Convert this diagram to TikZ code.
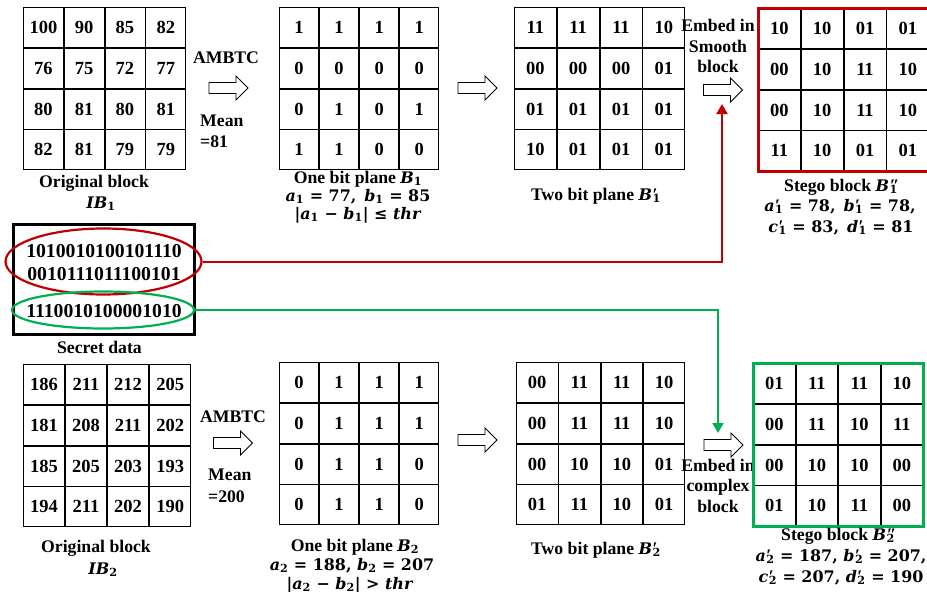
\documentclass[tikz,border=0pt]{standalone}
\usepackage{fontspec}
\setmainfont{Liberation Serif}
\newfontfamily\mathfnt{DejaVu Serif}[Scale=0.9]
\newfontfamily\primefnt{Liberation Serif}
\usetikzlibrary{matrix,shapes.geometric,arrows.meta}
\definecolor{sred}{RGB}{192,0,0}
\definecolor{sgreen}{RGB}{0,176,80}
\newcommand{\mylblfont}{\fontsize{17.7}{21}\selectfont\bfseries}
\newcommand{\mycellfont}{\fontsize{18.5}{22}\selectfont\bfseries}
\newcommand{\mysecfont}{\fontsize{19.7}{23}\selectfont\bfseries}
\newcommand{\M}[1]{{\mathfnt #1}}
\newcommand{\vs}[2]{\textit{#1}\textsubscript{#2}}
\newcommand{\vp}[3]{\textit{#1}\kern0.5pt\rlap{{\primefnt #3}}\textsubscript{#2}}
\tikzset{
  cellmat/.style={matrix of nodes, inner sep=0pt, outer sep=0pt, column sep=0pt, row sep=0pt, anchor=north west,
    nodes={draw, line width=0.8pt, minimum height=40pt, inner sep=0pt, outer sep=0pt, anchor=center, font=\mycellfont}},
  lbl/.style={font=\mylblfont, inner sep=0pt, anchor=base},
  sectext/.style={font=\mysecfont, inner sep=0pt, anchor=base},
  hollowarrow/.pic={\draw[line width=0.8pt, fill=white] (-19.5,-5.5) -- (7.5,-5.5) -- (7.5,-12) -- (19.5,0) -- (7.5,12) -- (7.5,5.5) -- (-19.5,5.5) -- cycle;},
  conn/.style={line width=2pt, -{Triangle[width=11pt,length=10pt]}}
}
\begin{document}
\begin{tikzpicture}[x=1pt,y=-1pt]
\useasboundingbox (0,0) rectangle (927,592);

% ---------- top row ----------
\matrix (IBa) [cellmat, nodes={minimum width=40pt}] at (23,7) {
100 & 90 & 85 & 82 \\
76 & 75 & 72 & 77 \\
80 & 81 & 80 & 81 \\
82 & 81 & 79 & 79 \\
};
\node[lbl] (lIBa1) at (94,187) {Original block};
\node[lbl] (lIBa2) at (101,208) {\M{\vs{IB}{1}}};

\node[lbl] (amb1) at (226,63) {AMBTC};
\pic at (228.5,88) {hollowarrow};
\node[lbl, anchor=base west] (mean1a) at (200,126) {Mean};
\node[lbl, anchor=base west] (mean1b) at (200,147) {=81};

\matrix (Ba) [cellmat, nodes={minimum width=39.25pt}] at (279,7) {
1 & 1 & 1 & 1 \\
0 & 0 & 0 & 0 \\
0 & 1 & 0 & 1 \\
1 & 1 & 0 & 0 \\
};
\node[lbl] (lBa1) at (358,183) {One bit plane \M{\vs{B}{1}}};
\node[lbl] (lBa2) at (358,201) {\M{\vs{a}{1} = 77,\enspace\vs{b}{1} = 85}};
\node[lbl] (lBa3) at (358,219) {\M{|\vs{a}{1} − \vs{b}{1}| ≤ \textit{thr}}};

\pic at (477.5,88) {hollowarrow};

\matrix (Bpa) [cellmat, nodes={minimum width=42pt}] at (514,7) {
11 & 11 & 11 & 10 \\
00 & 00 & 00 & 01 \\
01 & 01 & 01 & 01 \\
10 & 01 & 01 & 01 \\
};
\node[lbl] (lBpa) at (596,200) {Two bit plane \M{\vp{B}{1}{′}}};

\node[lbl] (emb1a) at (718,31) {Embed in};
\node[lbl] (emb1b) at (718,52) {Smooth};
\node[lbl] (emb1c) at (718,72) {block};
\pic at (723,90) {hollowarrow};

\matrix (Sa) [cellmat, nodes={minimum width=42pt}] at (758,8) {
10 & 10 & 01 & 01 \\
00 & 10 & 11 & 10 \\
00 & 10 & 11 & 10 \\
11 & 10 & 01 & 01 \\
};
\draw[sred, line width=3pt] (Sa.north west) rectangle (Sa.south east);
\node[lbl] (lSa1) at (841,191) {Stego block \M{\vp{B}{1}{″}}};
\node[lbl] (lSa2) at (840,211) {\M{\vp{a}{1}{′} = 78,\enspace\vp{b}{1}{′} = 78,}};
\node[lbl] (lSa3) at (841,232) {\M{\vp{c}{1}{′} = 83,\enspace\vp{d}{1}{′} = 81}};

% ---------- secret data ----------
\node[draw, line width=3pt, minimum width=181pt, minimum height=110pt, inner sep=0pt] (SD) at (103.5,279) {};
\node[sectext] (s1) at (104,257) {1010010100101110};
\node[sectext] (s2) at (104,280) {0010111011100101};
\node[sectext] (s3) at (104,317) {1110010100001010};
\node[ellipse, draw=sred, line width=2.2pt, minimum width=196pt, minimum height=66pt, inner sep=0pt] (ER) at (103.5,261.5) {};
\node[ellipse, draw=sgreen, line width=2.2pt, minimum width=182pt, minimum height=37pt, inner sep=0pt] (EG) at (103,310) {};
\node[lbl] (lSD) at (99.5,353) {Secret data};

\coordinate (tipR) at (722,104);
\coordinate (tipG) at (718,433);
\draw[conn, sred] (ER.east) -| (tipR);
\draw[conn, sgreen] (EG.east) -| (tipG);

% ---------- bottom row ----------
\matrix (IBb) [cellmat, nodes={minimum width=41.25pt}] at (23,364) {
186 & 211 & 212 & 205 \\
181 & 208 & 211 & 202 \\
185 & 205 & 203 & 193 \\
194 & 211 & 202 & 190 \\
};
\node[lbl] (lIBb1) at (96,552) {Original block};
\node[lbl] (lIBb2) at (103,574) {\M{\vs{IB}{2}}};

\node[lbl] (amb2) at (233,422) {AMBTC};
\pic at (233,443) {hollowarrow};
\node[lbl, anchor=base west] (mean2a) at (208,480) {Mean};
\node[lbl, anchor=base west] (mean2b) at (208,502) {=200};

\matrix (Bb) [cellmat, nodes={minimum width=39.25pt}] at (279,362) {
0 & 1 & 1 & 1 \\
0 & 1 & 1 & 1 \\
0 & 1 & 1 & 0 \\
0 & 1 & 1 & 0 \\
};
\node[lbl] (lBb1) at (355,551) {One bit plane \M{\vs{B}{2}}};
\node[lbl] (lBb2) at (352,570) {\M{\vs{a}{2} = 188, \vs{b}{2} = 207}};
\node[lbl] (lBb3) at (350,589) {\M{|\vs{a}{2} − \vs{b}{2}| > \textit{thr}}};

\pic at (477.5,440) {hollowarrow};

\matrix (Bpb) [cellmat, nodes={minimum width=41.5pt}] at (516,362) {
00 & 11 & 11 & 10 \\
00 & 11 & 11 & 10 \\
00 & 10 & 10 & 01 \\
01 & 11 & 10 & 01 \\
};
\node[lbl] (lBpb) at (596,554) {Two bit plane \M{\vp{B}{2}{′}}};

\pic at (723.5,445) {hollowarrow};
\node[lbl] (emb2a) at (718,471) {Embed in};
\node[lbl] (emb2b) at (718,491) {complex};
\node[lbl] (emb2c) at (718,512) {block};

\matrix (Sb) [cellmat, nodes={minimum width=41.75pt}] at (753,363) {
01 & 11 & 11 & 10 \\
00 & 11 & 10 & 11 \\
00 & 10 & 10 & 00 \\
01 & 10 & 11 & 00 \\
};
\draw[sgreen, line width=3pt] (Sb.north west) rectangle (Sb.south east);
\node[lbl] (lSb1) at (838,540) {Stego block \M{\vp{B}{2}{″}}};
\node[lbl] (lSb2) at (841,561) {\M{\vp{a}{2}{′} = 187, \vp{b}{2}{′} = 207,}};
\node[lbl] (lSb3) at (841,582) {\M{\vp{c}{2}{′} = 207, \vp{d}{2}{′} = 190}};
\end{tikzpicture}
\end{document}
